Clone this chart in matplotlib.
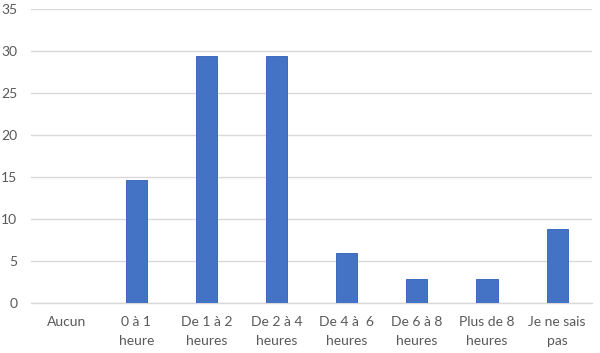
import matplotlib
matplotlib.use("Agg")
import matplotlib.pyplot as plt
import numpy as np

categories = ["Aucun", "0 à 1\nheure", "De 1 à 2\nheures", "De 2 à 4\nheures",
              "De 4 à  6\nheures", "De 6 à 8\nheures", "Plus de 8\nheures", "Je ne sais\npas"]
values = [0, 14.7, 29.4, 29.4, 5.9, 2.9, 2.9, 8.8]
yticks = [0, 5, 10, 15, 20, 25, 30, 35]

plt.rcParams["font.family"] = ["Lato", "DejaVu Sans"]
plt.rcParams["font.size"] = 10

fig = plt.figure(figsize=(6, 3.53), dpi=100)
ax = fig.add_axes([0.052, 0.1416, 0.935, 0.833])

x = np.arange(len(categories))
ax.bar(x, values, width=0.3, color="#4472C4", edgecolor="#2F5EB5", linewidth=0.6, zorder=3)

ax.set_xlim(-0.5, len(categories) - 0.5)
ax.set_ylim(0, 35)
ax.set_yticks(yticks)
ax.set_xticks(x)
ax.set_xticklabels(categories, color="#595959", linespacing=1.7)
ax.tick_params(axis="y", colors="#595959", length=0, pad=10)
ax.tick_params(axis="x", length=0, pad=9)
ax.grid(axis="y", color="#D9D9D9", linewidth=1, zorder=0)
for s in ["top", "right", "left"]:
    ax.spines[s].set_visible(False)
ax.spines["bottom"].set_color("#D9D9D9")
ax.spines["bottom"].set_linewidth(1)

fig.savefig("out.png", dpi=100)
